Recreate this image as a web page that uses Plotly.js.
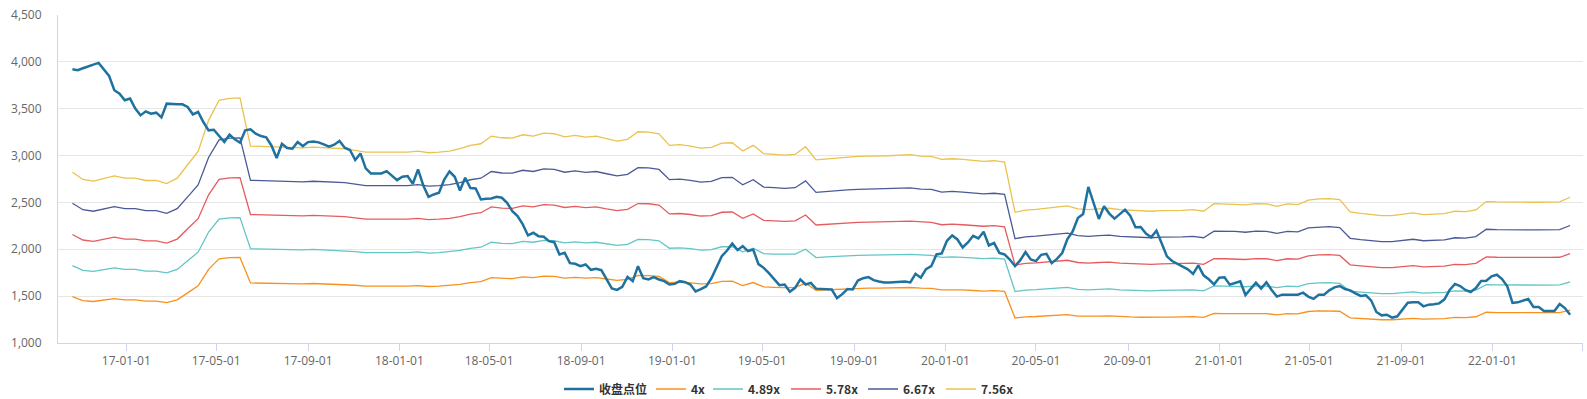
<!DOCTYPE html>
<html>
<head>
<meta charset="utf-8">
<script src="https://cdn.plot.ly/plotly-3.0.1.min.js"></script>
<style>
  html, body { margin: 0; padding: 0; background: #ffffff; }
  #chart { width: 1587px; height: 399px; }
</style>
</head>
<body>
<div id="chart"></div>
<script>
// ---- data ----
const seriesNames = ['收盘点位', '4x', '4.89x', '5.78x', '6.67x', '7.56x'];
const multiples = [4, 4.89, 5.78, 6.67, 7.56];
const firstDate = '2016-10-21';   // first weekly observation
const closeStepDays = 7;          // close is weekly
const bandStepDays = 14;          // PE bands read every two weeks

// weekly close (收盘点位)
const closeValues = [
  3922,3911,3932,3954,3971,3989,3922,3850,3697,3661,3590,3608,3501,3429,3472,3447,3458,3408,3554,3547,
  3547,3547,3519,3440,3465,3358,3269,3276,3208,3144,3223,3173,3137,3269,3280,3233,3208,3194,3108,2973,
  3126,3080,3073,3144,3101,3144,3150,3141,3119,3094,3116,3155,3084,3059,2952,3023,2863,2810,2810,2810,
  2834,2781,2738,2774,2781,2699,2852,2681,2560,2585,2603,2745,2831,2774,2628,2763,2653,2649,2532,2539,
  2542,2560,2550,2496,2407,2354,2265,2148,2176,2140,2133,2087,2076,1945,1962,1852,1845,1820,1838,1781,
  1792,1777,1678,1582,1567,1599,1706,1660,1820,1692,1678,1703,1678,1660,1624,1631,1660,1649,1624,1550,
  1575,1603,1688,1802,1927,1987,2062,1991,2034,1980,1998,1842,1802,1745,1678,1617,1624,1546,1589,1678,
  1624,1642,1580,1575,1571,1571,1479,1521,1575,1571,1667,1692,1703,1671,1657,1646,1646,1649,1649,1657,
  1646,1738,1696,1788,1820,1945,1955,2091,2148,2105,2019,2073,2144,2116,2187,2041,2069,1962,1945,1891,
  1820,1884,1970,1891,1874,1941,1952,1852,1898,1960,2110,2189,2334,2377,2665,2502,2324,2459,2381,2327,
  2370,2423,2359,2235,2238,2167,2128,2199,2064,1925,1875,1847,1815,1786,1737,1829,1722,1680,1626,1697,
  1701,1623,1640,1658,1512,1576,1644,1580,1648,1566,1495,1516,1516,1523,1516,1537,1495,1471,1515,1516,
  1562,1594,1608,1576,1562,1530,1502,1509,1455,1331,1295,1302,1270,1285,1356,1430,1434,1434,1391,1409,
  1413,1423,1466,1566,1630,1608,1566,1544,1587,1662,1665,1712,1729,1683,1605,1427,1434,1452,1470,1384,
  1384,1341,1341,1341,1416,1373,1302
];

// 7.56x band, read every two weeks; the other bands are the same earnings times their multiple
const band756Values = [
  2823,2745,2727,2752,2784,2759,2759,2734,2734,2702,2759,2902,3044,3376,3590,3611,3615,3101,3098,3087,
  3087,3083,3083,3090,3084,3080,3073,3055,3037,3037,3037,3030,3037,3048,3030,3037,3048,3073,3108,3126,
  3208,3190,3187,3222,3208,3240,3233,3199,3215,3197,3208,3180,3155,3173,3254,3251,3233,3109,3116,3101,
  3080,3087,3133,3137,3048,3109,3020,3012,3005,3012,3094,2955,2966,2977,2987,2991,2995,2995,2998,3005,
  3009,2995,2991,2959,2966,2959,2948,2938,2945,2930,2395,2418,2425,2439,2453,2463,2431,2423,2431,2438,
  2423,2416,2409,2406,2413,2413,2416,2423,2406,2487,2484,2484,2473,2487,2484,2459,2484,2477,2525,2537,
  2541,2530,2399,2384,2370,2359,2359,2377,2388,2370,2377,2381,2406,2402,2420,2509,2505,2502,2502,2502,
  2502,2502,2505,2555
];

const yTickValues = [1000, 1500, 2000, 2500, 3000, 3500, 4000, 4500];

// ---- styles ----
const closeColor = '#1f72a0';
const bandColors = ['#f8911e', '#62c5c6', '#e65b5e', '#4b5a96', '#eac24e'];
const legendWidths = [47, 12, 33, 32, 33, 35];

function makeDates(start, n, stepDays) {
  const t0 = Date.parse(start + 'T00:00:00Z');
  const out = [];
  for (let k = 0; k < n; k++) {
    out.push(new Date(t0 + k * stepDays * 86400000).toISOString().slice(0, 10));
  }
  return out;
}

const closeDates = makeDates(firstDate, closeValues.length, closeStepDays);
const bandDates = makeDates(firstDate, band756Values.length, bandStepDays);
const topMultiple = multiples[multiples.length - 1];

const traces = [];
multiples.forEach(function (m, k) {
  traces.push({
    type: 'scatter', mode: 'lines', name: seriesNames[k + 1],
    x: bandDates,
    y: band756Values.map(function (v) { return Math.round(v * m / topMultiple); }),
    line: { color: bandColors[k], width: 1.3 },
    legendwidth: legendWidths[k + 1],
    legendrank: k + 2
  });
});
// close drawn last (on top) but listed first in the legend
traces.push({
  type: 'scatter', mode: 'lines', name: seriesNames[0],
  x: closeDates, y: closeValues,
  line: { color: closeColor, width: 2.5 },
  legendwidth: legendWidths[0],
  legendrank: 1
});

const layout = {
  width: 1587, height: 399,
  margin: { l: 58, r: 4, t: 15, b: 56, pad: 0 },
  paper_bgcolor: '#ffffff', plot_bgcolor: '#ffffff',
  font: { family: '"Open Sans", "Noto Sans CJK SC", sans-serif', size: 12, color: '#666666' },
  showlegend: true,
  legend: {
    orientation: 'h', traceorder: 'normal',
    xref: 'container', yref: 'container',
    x: 559 / 1587, xanchor: 'left',
    y: 1 - 389 / 399, yanchor: 'middle',
    font: { family: '"Noto Sans CJK SC", "Open Sans", sans-serif', size: 12, color: '#333333', weight: 'bold' },
    bgcolor: 'rgba(0,0,0,0)', borderwidth: 0
  },
  xaxis: {
    type: 'date',
    range: ['2016-10-01 17:00', '2022-05-02 05:00'],
    tick0: '2017-01-01', dtick: 'M4', tickformat: '%y-%m-%d',
    ticks: 'outside', ticklen: 7, tickcolor: '#ccd6eb', tickwidth: 1,
    showline: true, linecolor: '#ccd6eb', linewidth: 1,
    showgrid: false, zeroline: false,
    tickfont: { size: 12, color: '#666666' }
  },
  yaxis: {
    range: [1000, 4500],
    tickmode: 'array', tickvals: yTickValues,
    tickformat: ',d',
    showline: true, linecolor: '#ccd6eb', linewidth: 1,
    showgrid: true, gridcolor: '#e6e6e6', gridwidth: 1,
    zeroline: false, ticks: '',
    ticklabelstandoff: 13,
    tickfont: { size: 12, color: '#666666' }
  }
};

Plotly.newPlot('chart', traces, layout, { displayModeBar: false, responsive: false });
</script>
</body>
</html>
